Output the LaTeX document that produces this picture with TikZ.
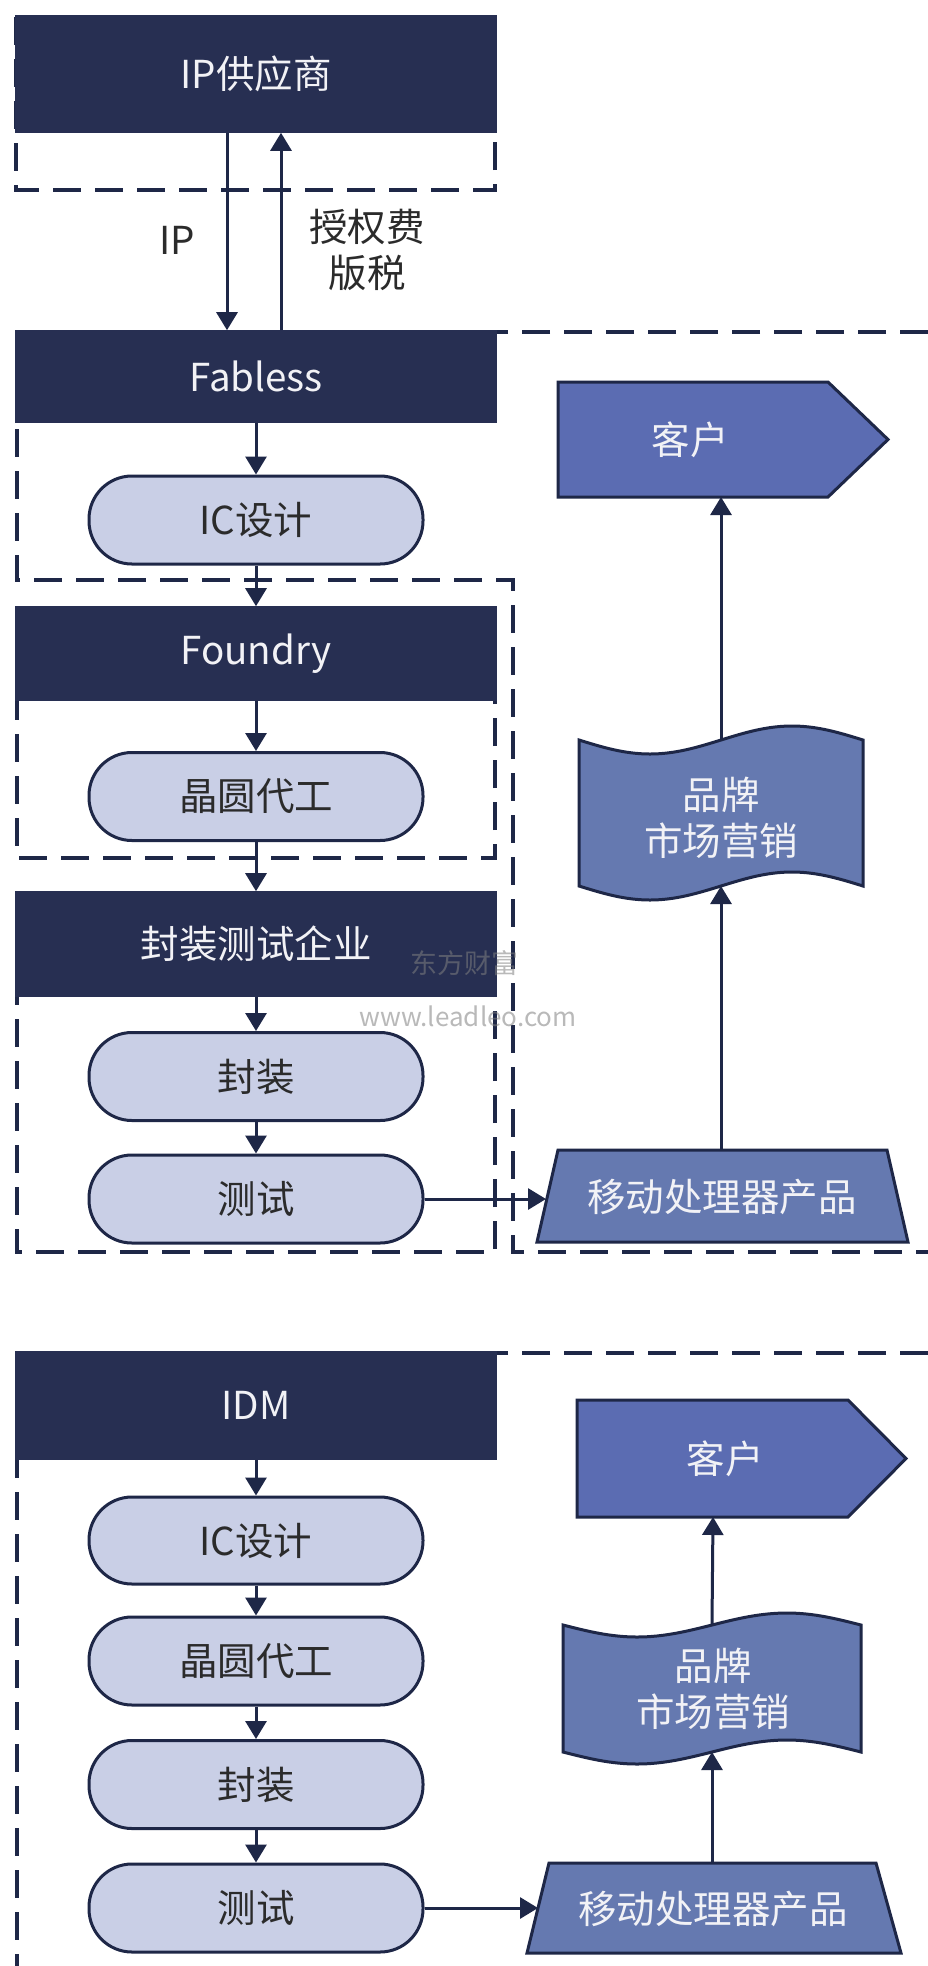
\documentclass[tikz,border=0pt]{standalone}
\usepackage{fontspec}
\setmainfont{Noto Sans CJK SC}
\usetikzlibrary{arrows.meta}
\definecolor{navy}{HTML}{272F52}
\definecolor{edgec}{HTML}{1E2747}
\definecolor{pillc}{HTML}{C9CFE6}
\definecolor{custc}{HTML}{5B6CB2}
\definecolor{prodc}{HTML}{6579B0}
\definecolor{txtc}{HTML}{2B2B2B}
\definecolor{wht}{HTML}{F2F2F6}
\newcommand{\labfont}{\fontsize{38.5}{46}\selectfont}
\begin{document}
\begin{tikzpicture}[x=1pt,y=-1pt,
  hdr/.style={draw=navy, line width=3.6pt, fill=navy, minimum width=478pt, inner sep=0pt, text=wht, font=\labfont},
  pillst/.style={draw=edgec, line width=3pt, fill=pillc, rounded corners=43pt, minimum width=334pt, minimum height=88pt, inner sep=0pt, text=txtc, font=\labfont},
  conn/.style={draw=edgec, line width=3pt, -{Triangle[width=21pt,length=18pt]}},
  cont/.style={draw=edgec, line width=3.5pt, dash pattern=on 28pt off 14pt},
  shapest/.style={draw=edgec, line width=3pt, line join=miter},
  wtxt/.style={text=wht, font=\labfont, align=center, inner sep=0pt},
  plain/.style={text=txtc, font=\labfont, align=center, inner sep=0pt},
  wm/.style={text=gray, text opacity=0.55, inner sep=0pt}]
\useasboundingbox (0,0) rectangle (928,1966);
\fill[white] (0,0) rectangle (928,1966);

% ---------------- containers (top diagram) ----------------
\draw[cont] (16,17) rectangle (495,190);
\draw[cont] (928,332) -- (17,332) -- (17,580) -- (513,580) -- (513,1252) -- (928,1252);
\draw[cont] (17,608) rectangle (495,858);
\draw[cont] (17,893) rectangle (495,1252);

% ---------------- left column (top) ----------------
\node[hdr, minimum height=114pt] (ip) at (256,74) {IP供应商};
\node[hdr, minimum height=89pt] (fab) at (256,376.5) {Fabless};
\node[pillst] (ic1) at (256,520) {IC设计};
\node[hdr, minimum height=91pt] (fdy) at (256,653.5) {Foundry};
\node[pillst] (wf1) at (256,796.5) {晶圆代工};
\node[hdr, minimum height=102pt] (osat) at (256,944) {封装测试企业};
\node[pillst] (pk1) at (256,1076.5) {封装};
\node[pillst] (ts1) at (256,1199) {测试};

\node[plain] (iplab) at (177,240) {IP};
\node[plain] (feelab) at (367,250) {授权费\\版税};

\draw[conn] ([xshift=-29pt]ip.south) -- ([xshift=-29pt]fab.north);
\draw[conn] ([xshift=25pt]fab.north) -- ([xshift=25pt]ip.south);
\draw[conn] (fab.south) -- (ic1.north);
\draw[conn] (ic1.south) -- (fdy.north);
\draw[conn] (fdy.south) -- (wf1.north);
\draw[conn] (wf1.south) -- (osat.north);
\draw[conn] (osat.south) -- (pk1.north);
\draw[conn] (pk1.south) -- (ts1.north);

% ---------------- right column (top) ----------------
\draw[shapest, fill=custc] (558,382) -- (828,382) -- (888,439.5) -- (828,497) -- (558,497) -- cycle;
\node[wtxt] (cu1) at (690,440) {客户};
\coordinate (cu1b) at (721,497);

\draw[shapest, fill=prodc] (579,740) sin (650,754) cos (721,740) sin (792,726) cos (863,740)
  -- (863,886) sin (792,872) cos (721,886) sin (650,900) cos (579,886) -- cycle;
\node[wtxt] (br1) at (721,818) {品牌\\市场营销};
\coordinate (br1t) at (721,740);
\coordinate (br1b) at (721,886);

\draw[shapest, fill=prodc] (558,1150) -- (887,1150) -- (908,1242) -- (537,1242) -- cycle;
\node[wtxt] (mp1) at (722,1197) {移动处理器产品};
\coordinate (mp1t) at (721,1150);
\coordinate (mp1l) at (546,1199);

\draw[conn] (ts1.east) -- (mp1l);
\draw[conn] (mp1t) -- (br1b);
\draw[conn] (br1t) -- (cu1b);

% watermark
\node[wm, font=\fontsize{27}{30}\selectfont] (wm1) at (464,963) {东方财富};
\node[wm, font=\fontsize{26}{30}\selectfont] (wm2) at (468,1016) {www.leadleo.com};

% ---------------- bottom diagram ----------------
\draw[cont] (928,1353) -- (17,1353) -- (17,1966);

\node[hdr, minimum height=105pt] (idm) at (256,1405.5) {IDM};
\node[pillst, minimum height=87pt] (ic2) at (256,1540.5) {IC设计};
\node[pillst] (wf2) at (256,1661) {晶圆代工};
\node[pillst] (pk2) at (256,1784.5) {封装};
\node[pillst] (ts2) at (256,1908) {测试};

\draw[conn] (idm.south) -- (ic2.north);
\draw[conn] (ic2.south) -- (wf2.north);
\draw[conn] (wf2.south) -- (pk2.north);
\draw[conn] (pk2.south) -- (ts2.north);

\draw[shapest, fill=custc] (577,1400) -- (848,1400) -- (906,1458.5) -- (848,1517) -- (577,1517) -- cycle;
\node[wtxt] (cu2) at (725,1459) {客户};
\coordinate (cu2b) at (713,1517);

\draw[shapest, fill=prodc] (563,1625) sin (637,1637) cos (712,1625) sin (787,1613) cos (861,1625)
  -- (861,1752) sin (787,1740) cos (712,1752) sin (637,1764) cos (563,1752) -- cycle;
\node[wtxt] (br2) at (713,1688.5) {品牌\\市场营销};
\coordinate (br2t) at (712,1625);
\coordinate (br2b) at (712,1752);

\draw[shapest, fill=prodc] (549,1863) -- (876,1863) -- (901,1953) -- (527,1953) -- cycle;
\node[wtxt] (mp2) at (713,1909) {移动处理器产品};
\coordinate (mp2t) at (712,1863);
\coordinate (mp2l) at (538,1908);

\draw[conn] (ts2.east) -- (mp2l);
\draw[conn] (mp2t) -- (br2b);
\draw[conn] (br2t) -- (cu2b);
\end{tikzpicture}
\end{document}
